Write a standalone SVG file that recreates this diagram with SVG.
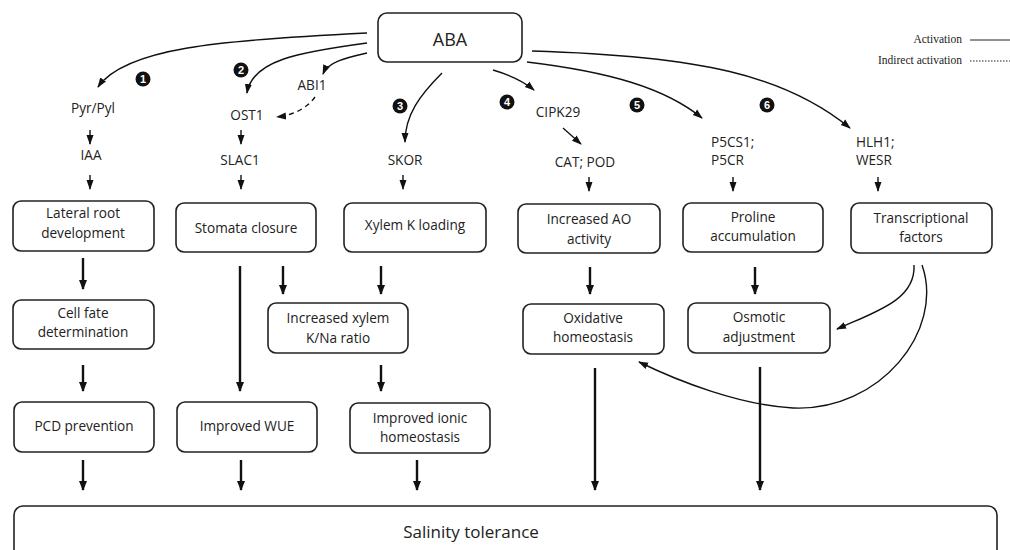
<svg xmlns="http://www.w3.org/2000/svg" width="1010" height="550" viewBox="0 0 1010 550">
<defs>
<style>
.box{fill:#fff;stroke:#222;stroke-width:1.6}
.t{font-family:"Open Sans","Liberation Sans",sans-serif;font-size:13.6px;fill:#222;text-anchor:middle}
.l{font-family:"Open Sans","Liberation Sans",sans-serif;font-size:13.6px;fill:#222}
.leg{font-family:"Liberation Serif",serif;font-size:11.5px;fill:#222;text-anchor:end}
.c{fill:none;stroke:#111;stroke-width:1.4}
.k{fill:none;stroke:#111;stroke-width:2.4}
.num{fill:#111}
.nt{font-family:"Liberation Sans",sans-serif;font-size:11px;font-weight:bold;fill:#fff;text-anchor:middle}
</style>
<marker id="a" markerUnits="userSpaceOnUse" markerWidth="10" markerHeight="10" viewBox="0 0 10 10" refX="9" refY="5" orient="auto"><path d="M0,1.5 L10,5 L0,8.5 Z" fill="#111"/></marker>
<marker id="b" markerUnits="userSpaceOnUse" markerWidth="10" markerHeight="10" viewBox="0 0 10 10" refX="9" refY="5" orient="auto"><path d="M0,1 L10,5 L0,9 Z" fill="#111"/></marker>
</defs>
<rect width="1010" height="550" fill="#fff"/>

<g id="legend">
<text class="leg" x="962" y="43">Activation</text>
<line x1="970" y1="40" x2="1010" y2="40" stroke="#222" stroke-width="1"/>
<text class="leg" x="962" y="64">Indirect activation</text>
<line x1="970" y1="61" x2="1010" y2="61" stroke="#222" stroke-width="1" stroke-dasharray="1.5,1.5"/>
</g>

<g id="numbers">
<circle class="num" cx="143" cy="79" r="7.5"/><text class="nt" x="143" y="83">1</text>
<circle class="num" cx="241" cy="70" r="7.5"/><text class="nt" x="241" y="74">2</text>
<circle class="num" cx="400" cy="106" r="7.5"/><text class="nt" x="400" y="110">3</text>
<circle class="num" cx="507" cy="102" r="7.5"/><text class="nt" x="507" y="106">4</text>
<circle class="num" cx="637" cy="105" r="7.5"/><text class="nt" x="637" y="109">5</text>
<circle class="num" cx="767" cy="105" r="7.5"/><text class="nt" x="767" y="109">6</text>
</g>

<g id="connectors">
<path class="c" marker-end="url(#a)" d="M367,33 C220,40 125,48 98,87"/>
<path class="c" marker-end="url(#a)" d="M367,43 C300,52 252,60 247,93"/>
<path class="c" marker-end="url(#a)" d="M367,53 C345,58 328,62 323,74"/>
<path class="c" marker-end="url(#a)" stroke-dasharray="5,4" d="M315,97 C308,107 295,115 277,117"/>
<path class="c" marker-end="url(#a)" d="M442,73 C420,95 405,115 405,142"/>
<path class="c" marker-end="url(#a)" d="M493,70 C510,75 522,80 534,90"/>
<path class="c" marker-end="url(#a)" d="M527,62 C610,72 665,88 702,118"/>
<path class="c" marker-end="url(#a)" d="M532,51 C700,56 785,75 850,128"/>

<path class="c" marker-end="url(#a)" d="M90,130 V144"/>
<path class="c" marker-end="url(#a)" d="M90,175 V189"/>
<path class="c" marker-end="url(#a)" d="M241,130 V144"/>
<path class="c" marker-end="url(#a)" d="M241,175 V189"/>
<path class="c" marker-end="url(#a)" d="M403,175 V189"/>
<path class="c" marker-end="url(#a)" d="M563,128 L581,144"/>
<path class="c" marker-end="url(#a)" d="M589,177 V191"/>
<path class="c" marker-end="url(#a)" d="M733,177 V191"/>
<path class="c" marker-end="url(#a)" d="M878,177 V191"/>

<path class="k" marker-end="url(#b)" d="M83,258 V289"/>
<path class="k" marker-end="url(#b)" d="M240,266 V391"/>
<path class="k" marker-end="url(#b)" d="M283,266 V294"/>
<path class="k" marker-end="url(#b)" d="M381,266 V294"/>
<path class="k" marker-end="url(#b)" d="M590,267 V294"/>
<path class="k" marker-end="url(#b)" d="M755,267 V294"/>

<path class="k" marker-end="url(#b)" d="M83,365 V391"/>
<path class="k" marker-end="url(#b)" d="M381,365 V391"/>
<path class="k" marker-end="url(#b)" d="M595,368 V490"/>
<path class="k" marker-end="url(#b)" d="M760,367 V490"/>

<path class="k" marker-end="url(#b)" d="M83,460 V490"/>
<path class="k" marker-end="url(#b)" d="M241,460 V490"/>
<path class="k" marker-end="url(#b)" d="M417,460 V490"/>

<path class="c" marker-end="url(#a)" d="M914,265 C916,300 875,312 837,329"/>
<path class="c" marker-end="url(#a)" d="M922,265 C945,330 880,412 793,408 C740,405 680,382 639,362"/>
</g>

<g id="ABA"><rect class="box" x="378" y="13" width="144" height="49" rx="9"/><text class="t" x="450" y="46" style="font-size:18px">ABA</text></g>

<g id="Pyr"><text class="t" x="93" y="113">Pyr/Pyl</text></g>
<g id="IAA"><text class="t" x="91" y="160">IAA</text></g>
<g id="ABI1"><text class="t" x="312" y="90">ABI1</text></g>
<g id="OST1"><text class="t" x="247" y="120">OST1</text></g>
<g id="SLAC1"><text class="t" x="240" y="165">SLAC1</text></g>
<g id="SKOR"><text class="t" x="405" y="165">SKOR</text></g>
<g id="CIPK29"><text class="t" x="558" y="117">CIPK29</text></g>
<g id="CATPOD"><text class="t" x="585" y="167">CAT; POD</text></g>
<g id="P5CS1"><text class="l" x="711" y="147">P5CS1;</text><text class="l" x="711" y="165">P5CR</text></g>
<g id="HLH1"><text class="l" x="856" y="147">HLH1;</text><text class="l" x="856" y="165">WESR</text></g>

<g id="lateral"><rect class="box" x="13" y="201" width="141" height="50" rx="8"/><text class="t" x="83" y="218">Lateral root</text><text class="t" x="83" y="238">development</text></g>
<g id="stomata"><rect class="box" x="176" y="203" width="140" height="49" rx="8"/><text class="t" x="246" y="233">Stomata closure</text></g>
<g id="xylemK"><rect class="box" x="344" y="203" width="142" height="49" rx="8"/><text class="t" x="415" y="230">Xylem K loading</text></g>
<g id="AO"><rect class="box" x="518" y="204" width="142" height="49" rx="8"/><text class="t" x="589" y="224">Increased AO</text><text class="t" x="589" y="244">activity</text></g>
<g id="proline"><rect class="box" x="683" y="203" width="140" height="49" rx="8"/><text class="t" x="753" y="222">Proline</text><text class="t" x="753" y="241">accumulation</text></g>
<g id="TF"><rect class="box" x="851" y="203" width="141" height="50" rx="8"/><text class="t" x="921" y="223">Transcriptional</text><text class="t" x="921" y="242">factors</text></g>

<g id="cellfate"><rect class="box" x="13" y="300" width="141" height="49" rx="8"/><text class="t" x="83" y="318">Cell fate</text><text class="t" x="83" y="337">determination</text></g>
<g id="KNa"><rect class="box" x="268" y="303" width="140" height="50" rx="8"/><text class="t" x="338" y="323">Increased xylem</text><text class="t" x="338" y="343">K/Na ratio</text></g>
<g id="oxid"><rect class="box" x="523" y="304" width="141" height="50" rx="8"/><text class="t" x="593" y="323">Oxidative</text><text class="t" x="593" y="342">homeostasis</text></g>
<g id="osmotic"><rect class="box" x="688" y="303" width="142" height="50" rx="8"/><text class="t" x="759" y="322">Osmotic</text><text class="t" x="759" y="342">adjustment</text></g>

<g id="PCD"><rect class="box" x="14" y="402" width="140" height="50" rx="8"/><text class="t" x="84" y="431">PCD prevention</text></g>
<g id="WUE"><rect class="box" x="177" y="402" width="140" height="50" rx="8"/><text class="t" x="247" y="431">Improved WUE</text></g>
<g id="ionic"><rect class="box" x="350" y="403" width="140" height="50" rx="8"/><text class="t" x="420" y="423">Improved ionic</text><text class="t" x="420" y="442">homeostasis</text></g>

<g id="salinity"><rect class="box" x="14" y="506" width="983" height="60" rx="9"/><text class="t" x="471" y="538" style="font-size:17px">Salinity tolerance</text></g>
</svg>
